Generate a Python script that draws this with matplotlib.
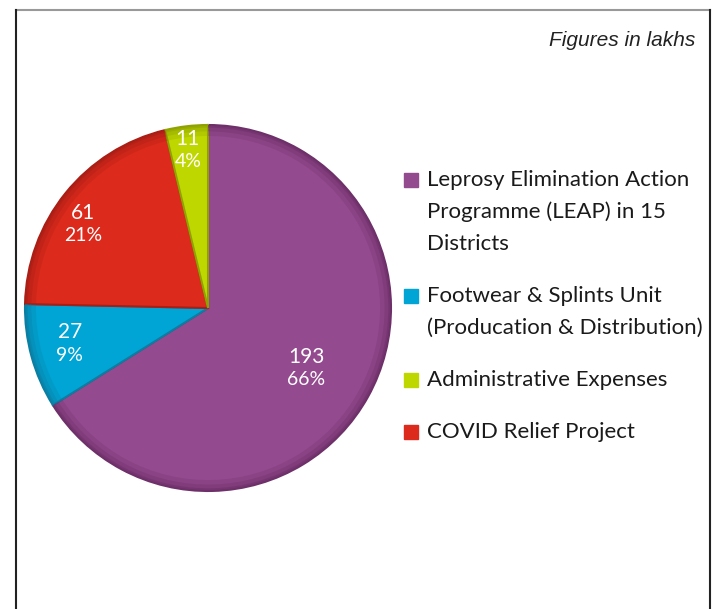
import matplotlib
matplotlib.use("Agg")
from matplotlib import pyplot as plt
from matplotlib.patches import Rectangle
from matplotlib.lines import Line2D
import numpy as np

# Data (figures in lakhs), clockwise from 12 o'clock
values = [193, 27, 61, 11]
percents = ["66%", "9%", "21%", "4%"]
colors = ["#944A8F", "#00A5D5", "#DC2A1D", "#BFD700"]
edges = ["#6E3069", "#0A7FA3", "#A91E15", "#8FA200"]

# Legend order
legend_labels = [
    "Leprosy Elimination Action\nProgramme (LEAP) in 15\nDistricts",
    "Footwear & Splints Unit\n(Producation & Distribution)",
    "Administrative Expenses",
    "COVID Relief Project",
]
legend_colors = ["#944A8F", "#00A5D5", "#BFD700", "#DC2A1D"]

W, H = 719, 609
fig = plt.figure(figsize=(W / 100, H / 100), dpi=100)
font = "Lato"

# pie axes: center (208, 308) px, radius 183 px
cx, cy, r = 208, 308, 183
ax = fig.add_axes([(cx - r) / W, (H - cy - r) / H, 2 * r / W, 2 * r / H])
wedges, _ = ax.pie(values, colors=colors, startangle=90, counterclock=False,
                   wedgeprops=dict(edgecolor="none"))
for w, ec in zip(wedges, edges):
    w.set_edgecolor(ec)
    w.set_linewidth(1.5)
# soft darker rim, like the bevel in the original
for width, alpha in [(0.06, 0.25), (0.035, 0.35), (0.015, 0.5)]:
    ax.pie(values, colors=edges, startangle=90, counterclock=False,
           wedgeprops=dict(width=width, edgecolor="none", alpha=alpha))
ax.set_xlim(-1, 1)
ax.set_ylim(-1, 1)
ax.set_aspect("equal")
ax.axis("off")

label_r = [0.63, 0.78, 0.82, 0.87]
label_shift = [-2.5, -1.0, 5.0, 0.5]
for w, v, p, lr, sh in zip(wedges, values, percents, label_r, label_shift):
    ang = np.deg2rad((w.theta1 + w.theta2) / 2 + sh)
    x, y = lr * np.cos(ang), lr * np.sin(ang)
    ax.text(x, y + 0.063, str(v), color="white", fontsize=15, family=font,
            ha="center", va="center")
    ax.text(x, y - 0.063, p, color="white", fontsize=14, family=font,
            ha="center", va="center")

# legend drawn by hand so the square sits on the first line
line_h = 32
item_gap = 20
y = 180
for lab, col in zip(legend_labels, legend_colors):
    fig.patches.append(Rectangle((404 / W, 1 - (y + 7) / H), 14 / W, 14 / H,
                                 transform=fig.transFigure, color=col))
    for i, line in enumerate(lab.split("\n")):
        fig.text(427 / W, 1 - (y + i * line_h) / H, line, fontsize=16,
                 family=font, color="#1a1a1a", ha="left", va="center")
    y += len(lab.split("\n")) * line_h + item_gap

fig.text(695 / W, 1 - 40 / H, "Figures in lakhs", fontsize=15,
         family="Liberation Sans", style="italic", color="#222222",
         ha="right", va="center")

# frame
fig.lines.append(Line2D([16 / W, 710 / W], [1 - 10 / H, 1 - 10 / H],
                        transform=fig.transFigure, color="#999999", lw=1.5))
fig.lines.append(Line2D([16 / W, 16 / W], [0, 1 - 10 / H],
                        transform=fig.transFigure, color="#222222", lw=1.5))
fig.lines.append(Line2D([710 / W, 710 / W], [0, 1 - 10 / H],
                        transform=fig.transFigure, color="#222222", lw=1.5))

fig.savefig("out.png", dpi=100)
